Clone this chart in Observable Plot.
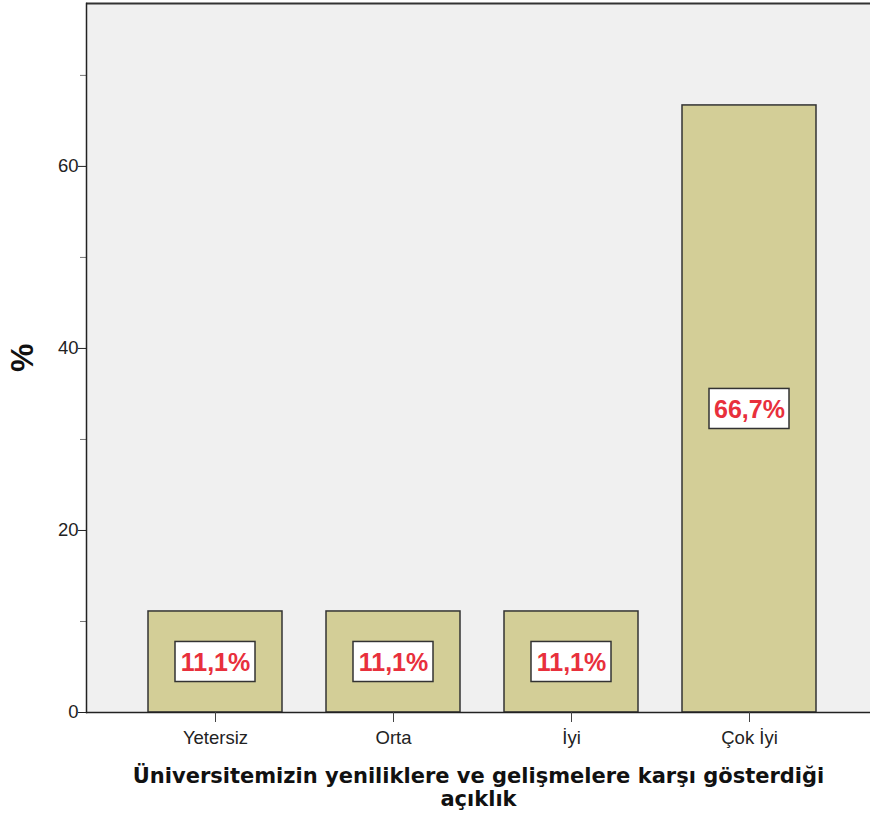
<!DOCTYPE html>
<html><head><meta charset="utf-8">
<script src="https://cdn.jsdelivr.net/npm/d3@7"></script>
<script src="https://cdn.jsdelivr.net/npm/@observablehq/plot@0.6"></script>
<style>
body{margin:0;background:#fff;font-family:"Liberation Sans",Arial,sans-serif;}
</style></head>
<body><div id="chart"></div>
<script>
const categories = ["Yetersiz", "Orta", "İyi", "Çok İyi"];
const percents = [11.1, 11.1, 11.1, 66.7];
const labels = ["11,1%", "11,1%", "11,1%", "66,7%"];
const majorTicks = [0, 20, 40, 60];
const minorTicks = [10, 30, 50, 70];
const yMax = 77.9;
const xTitle = "Üniversitemizin yeniliklere ve gelişmelere karşı gösterdiği\naçıklık";
const yTitle = "%";

const data = categories.map((c, i) => ({cat: c, v: percents[i], label: labels[i]}));

const chart = Plot.plot({
  width: 870, height: 824,
  marginLeft: 86, marginRight: 0, marginTop: 3, marginBottom: 112,
  style: {fontFamily: "'Liberation Sans', Arial, sans-serif", background: "#fff"},
  x: {domain: categories, paddingInner: 0.247, paddingOuter: 0.3255, align: 0.534, label: null},
  y: {domain: [0, yMax], label: null},
  marks: [
    Plot.frame({fill: "#f0f0f0", stroke: null}),
    Plot.barY(data, {x: "cat", y: "v", fill: "#d3ce97", stroke: "#333", strokeWidth: 1.5}),
    Plot.barY(data, {x: "cat", y1: d => d.v / 2 - 2.2, y2: d => d.v / 2 + 2.2, insetLeft: 27, insetRight: 27, fill: "#fff", stroke: "#333", strokeWidth: 1.5}),
    Plot.text(data, {x: "cat", y: d => d.v / 2, text: "label", fill: "#e8303c", fontSize: 25, fontWeight: "bold", dy: 1}),
    Plot.ruleY([yMax], {stroke: "#333", strokeWidth: 2}),
    Plot.ruleY([0], {stroke: "#222", strokeWidth: 1.5}),
    Plot.axisY(minorTicks, {tickSize: 6, text: null, stroke: "#777", label: null}),
    Plot.axisY(majorTicks, {tickSize: 8, tickPadding: 0, fontSize: 18.5, fill: "#222", stroke: "#222", label: null}),
    Plot.frame({anchor: "left", stroke: "#222", strokeWidth: 1.5}),
    Plot.axisX({tickSize: 10, tickPadding: 8, fontSize: 18.5, fill: "#222", stroke: "#444", label: null}),
    Plot.text([xTitle], {frameAnchor: "bottom", dy: 93, lineHeight: 1.05, fontSize: 21, fontWeight: "bold", fill: "#111", fontFamily: "'DejaVu Sans', Verdana, sans-serif", style: "letter-spacing:0.4px", text: d => d}),
    Plot.text([yTitle], {frameAnchor: "left", dx: -64, dy: 14, rotate: -90, fontSize: 32, fontWeight: "bold", fill: "#111", text: d => d})
  ]
});
document.getElementById("chart").appendChild(chart);
</script></body></html>
